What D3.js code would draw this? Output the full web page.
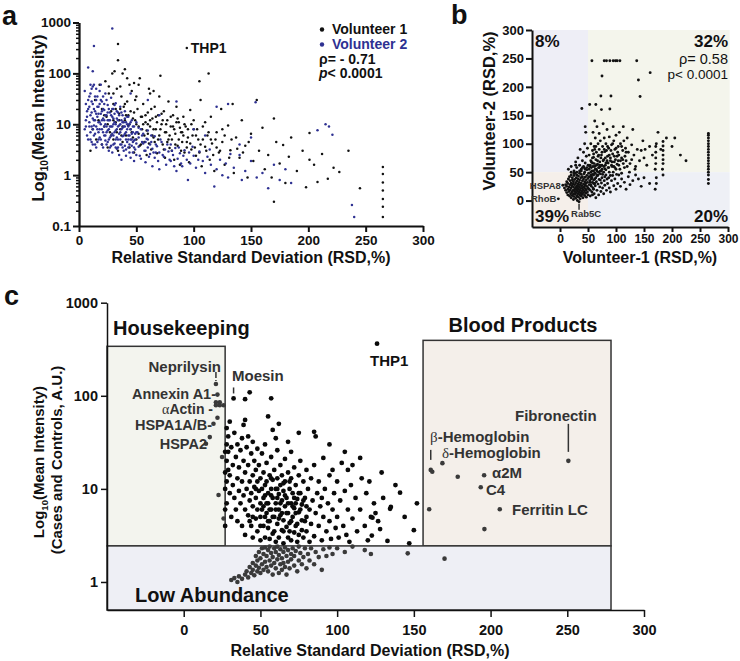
<!DOCTYPE html>
<html><head><meta charset="utf-8">
<script src="https://cdn.jsdelivr.net/npm/d3@7"></script>
<style>body{margin:0;background:#fff}svg{display:block}</style>
</head><body><svg id="chart" width="740" height="661"></svg>
<script>
// ---------------- DATA ----------------
// Panel a: [RSD %, mean intensity]
const aVol2 = [[5,8],[5,45],[6,12],[6,25],[7,6],[7,18],[8,20],[8,5],[8,130],[9,35],[9,9],[10,15],[10,7],[10,60],[11,50],[11,9],[11,4.5],[12,25],[12,4],[12,110],[12,13],[13,12],[13,60],[13,345],[13,6],[14,6.5],[14,18],[14,35],[15,30],[15,9],[15,3.5],[16,4.5],[16,14],[16,22],[17,22],[17,7],[17,11],[18,45],[18,11],[18,5.5],[19,5],[19,16],[19,30],[20,28],[20,8],[20,12],[21,3.5],[21,13],[21,20],[22,19],[22,6],[22,9],[23,40],[23,10],[23,4.8],[24,4],[24,15],[24,7],[25,24],[25,7.5],[25,12],[26,3],[26,12],[26,5],[27,17],[27,5.5],[27,9],[28,33],[28,9],[28,3.8],[29,2.8],[29,14],[29,760],[29,6.5],[30,20],[30,6],[30,10],[31,4.2],[31,11],[31,16],[32,26],[32,7.5],[32,3.5],[33,3.3],[33,13],[33,5.5],[34,17],[34,5],[34,9],[35,9.5],[35,2.5],[35,6.5],[36,22],[36,7],[36,4],[37,4],[37,12],[37,2],[38,15],[38,5.8],[38,8.5],[39,3],[39,9],[39,11],[40,18],[40,6.5],[40,3.8],[41,2.4],[41,11],[41,5],[42,4.5],[42,8],[42,14],[43,14],[43,3.5],[43,6],[44,6],[44,10],[44,2.8],[45,2.2],[45,5],[45,8],[46,12],[46,3.8],[46,6.5],[47,7],[47,2.8],[47,4.5],[48,9],[48,4.8],[48,1.9],[49,3.2],[49,6.5],[50,11],[50,2.5],[50,4.2],[51,7],[52,5.5],[52,3.6],[53,2.4],[54,8],[54,2.1],[55,4.5],[56,4.2],[56,6.5],[57,3],[58,3],[58,1.8],[59,5.2],[60,5],[60,7.5],[61,2.3],[62,2.6],[62,4],[63,6],[64,3.3],[64,1.5],[65,2.8],[66,5.8],[66,2.2],[67,4],[68,3.7],[69,1.9],[70,2.8],[70,1.3],[71,5],[72,4.5],[73,2.5],[74,2.3],[75,3.2],[76,1.6],[77,4],[78,2.9],[79,2],[80,4],[80,1.9],[81,3],[82,2.5],[83,1.5],[84,3.4],[85,1.2],[86,2.1],[87,3.5],[88,2.7],[89,1.7],[90,1.5],[91,2.4],[92,3.1],[94,2],[95,0.8],[96,2.8],[97,1.7],[99,3.6],[100,2.4],[102,1.4],[104,2],[105,2.9],[108,1.9],[110,1.1],[112,2.3],[114,3.2],[115,1.6],[118,0.6],[120,1.3],[123,2],[125,1.0],[128,1.7],[130,0.9],[132,2.6],[135,1.4],[140,2.5],[142,0.8],[145,1.2],[150,1.9],[154,27],[155,0.9],[160,1.1],[165,0.55],[170,1.6],[175,0.8],[180,1.3],[185,0.7],[208,7.6],[215,10],[218,9],[221,6.2],[238,0.26],[240,0.15],[120,22],[130,25],[85,28],[60,30],[45,40],[70,15],[100,8],[110,6],[140,4],[150,5.5],
[6,9],[7,14],[8,30],[9,11],[9,22],[10,40],[10,5],[11,17],[11,28],[12,8],[12,55],[13,20],[13,9.5],[14,4],[14,12],[15,16],[15,50],[16,8],[16,35],[17,5],[17,16],[18,25],[18,8],[19,10],[19,60],[20,4],[20,18],[21,7],[21,35],[22,12],[22,25],[23,6],[23,15],[24,9],[24,30],[25,4.5],[25,17],[26,8],[26,20],[27,12],[27,3.5],[28,15],[28,6],[29,9],[29,20],[30,4],[30,13],[31,7],[31,24],[32,10],[32,5],[33,18],[33,8],[34,12],[34,3.5],[35,15],[36,10],[36,5],[37,8],[37,17],[38,3.5],[38,11],[39,6],[40,9],[40,13],[41,7],[41,3.2],[42,10],[43,5],[43,9],[44,4],[45,11],[46,5],[47,9],[48,3.5],[49,5],[50,7],[52,8.5],[55,6],[58,4.5],[60,3.5],[63,4.5],[67,2.8]];
const aVol1 = [[10,3],[12,8],[14,30],[15,5],[17,12],[18,60],[20,4],[20,20],[22,9],[23,70],[24,14],[25,3.5],[26,40],[27,7],[28,18],[29,100],[30,5],[30,25],[31,110],[32,11],[33,50],[34,377],[34,182],[34,3],[35,16],[36,8],[37,35],[38,100],[38,4.5],[39,22],[40,12],[41,6],[42,80],[42,28],[43,9.5],[44,3.5],[45,18],[46,45],[46,7],[47,13],[48,2.8],[49,30],[50,10],[50,5],[51,20],[52,60],[53,3.8],[54,14],[55,8],[56,25],[57,4.5],[58,11],[59,2.5],[60,17],[60,6.5],[61,50],[62,40],[62,9],[63,3.2],[64,13],[65,5.5],[66,22],[67,8],[68,2.7],[69,15],[70,6],[70,35],[71,90],[72,10],[73,4],[74,18],[75,2.2],[76,7],[77,12],[78,28],[79,3.4],[80,9],[81,5],[82,15],[83,2],[84,6.5],[85,22],[86,3.8],[87,11],[88,1.6],[89,7],[90,4.5],[91,14],[92,2.8],[93,9],[94,316],[95,5.5],[96,1.8],[97,19],[98,3.2],[100,8],[100,12],[102,2.4],[104,5],[105,70],[106,30],[107,1.5],[108,9],[110,3.6],[112,6],[113,100],[114,2],[115,14],[116,4.2],[118,1.2],[120,7],[122,2.8],[124,20],[125,4.5],[127,1.6],[130,9.5],[132,3.1],[134,25],[135,1.1],[137,5.5],[140,2.2],[142,12],[145,3.8],[147,0.9],[150,6.5],[152,1.9],[155,30],[157,3],[160,8.5],[162,1.3],[165,2.5],[168,0.9],[170,13],[170,0.3],[172,4.5],[175,1.7],[178,3.9],[180,0.7],[183,2.3],[185,5.5],[190,1.2],[195,3],[198,0.58],[201,6.7],[201,2],[205,1.6],[208,0.73],[212,2.6],[217,0.85],[222,1.4],[227,1.15],[235,3],[245,0.55],[265,1.44],[265,1.05],[265,0.72],[265,0.5],[265,0.34],[265,0.24],[265,0.15],[22,15],[25,10],[28,6],[32,20],[35,12],[37,6],[40,25],[43,15],[45,8],[48,17],[50,35],[52,9],[55,14],[57,6],[60,10],[63,20],[65,8],[68,11],[72,16],[75,7],[78,5],[82,9],[86,13],[90,7],[94,4.5],[98,10],[102,6],[106,4],[110,11],[115,5],[120,3.5],[125,8],[30,40],[36,55],[44,60],[53,80],[65,45],[48,65],[26,55],[40,120],
[30,12],[33,7],[36,20],[38,9],[41,15],[44,10],[47,5.5],[49,12],[52,6.5],[54,4],[56,10],[58,15],[59,7.5],[61,4.2],[62,12],[64,6],[66,4.5],[67,14],[69,5],[71,8],[73,12],[74,3.2],[76,10],[77,4.5],[79,6],[80,14],[81,3],[83,8],[84,4],[85,11],[87,5],[88,8.5],[89,3],[91,6],[92,10],[94,3.5],[95,8],[97,4.2],[99,6],[101,3.5],[103,8],[105,2.8],[108,5],[111,3],[113,7],[117,2.5],[119,5],[123,3],[127,6],[131,2.2],[133,5],[138,3.3],[143,2.8],[148,4.5]];
const aStats = ["ρ= - 0.71", "< 0.0001"];
const aSeries = ["Volunteer 1", "Volunteer 2"];

// Panel b: [Volunteer-1 RSD, Volunteer-2 RSD]
const bPoints = [[8,22],[10,18],[10,28],[12,14],[12,25],[12,33],[14,10],[14,20],[14,30],[15,38],[16,16],[16,24],[17,8],[17,42],[18,19],[18,28],[18,35],[19,12],[20,5],[20,22],[20,31],[20,45],[21,15],[21,26],[22,9],[22,36],[22,40],[23,18],[23,29],[24,2],[24,12],[24,24],[24,33],[25,44],[25,7],[26,16],[26,20],[26,28],[26,37],[27,11],[27,48],[28,4],[28,23],[28,31],[29,14],[29,19],[29,40],[30,8],[30,26],[30,34],[30,45],[31,0],[31,17],[31,22],[32,12],[32,29],[32,38],[33,6],[33,20],[33,25],[33,43],[34,15],[34,32],[35,10],[35,24],[35,36],[35,48],[36,3],[36,18],[36,28],[37,13],[37,21],[37,40],[38,8],[38,31],[38,46],[39,16],[39,26],[40,11],[40,22],[40,35],[40,42],[41,5],[41,19],[42,14],[42,29],[42,38],[43,24],[43,47],[44,9],[44,17],[44,33],[45,21],[45,27],[45,41],[46,13],[46,30],[47,6],[47,19],[47,36],[48,25],[48,44],[49,15],[49,32],[50,10],[50,22],[50,39],[5,27],[-3,3],[34,-2],
[15,55],[20,60],[25,52],[28,68],[30,58],[32,75],[35,62],[36,90],[38,55],[39,162],[40,70],[42,85],[43,58],[44,100],[45,66],[46,120],[47,78],[48,54],[49,92],[45,130],
[52,55],[52,80],[53,169],[54,62],[55,100],[55,70],[56,58],[57,246],[58,88],[58,66],[59,120],[60,52],[60,76],[61,95],[62,60],[62,140],[63,110],[64,169],[64,72],[65,55],[65,85],[66,130],[67,64],[68,100],[68,78],[69,58],[70,90],[70,118],[71,68],[72,52],[72,105],[73,184],[74,160],[74,80],[75,219],[75,62],[76,95],[77,135],[78,72],[79,246],[79,110],[80,56],[80,86],[82,100],[82,66],[83,246],[84,125],[85,78],[86,58],[87,92],[88,112],[89,161],[89,246],[90,70],[91,184],[92,98],[93,60],[94,82],[95,246],[95,130],[96,105],[97,68],[98,90],[99,246],[100,55],[100,115],[102,246],[102,78],[104,95],[105,62],[107,246],[108,100],[110,75],[112,88],[113,130],[115,58],[117,92],[118,70],[120,110],[122,85],[125,65],[128,98],[130,125],[132,80],[135,60],[137,246],[138,90],[140,212],[142,70],[143,183],[145,88],[148,105],[150,75],[152,90],[155,62],[160,95],[161,225],[165,80],[170,55],[171,65],[171,75],[171,85],[171,95],[172,100],[175,120],[180,90],[183,55],[184,65],[184,72],[184,80],[184,88],[184,96],[184,104],[190,110],[200,95],[205,110],[215,80],[225,70],
[265,55],[265,60],[265,65],[265,70],[265,75],[265,80],[265,85],[265,90],[265,95],[265,100],[265,105],[265,110],[265,115],[265,118],
[52,20],[53,35],[54,8],[55,28],[56,42],[57,15],[58,32],[59,22],[60,45],[61,12],[62,38],[63,26],[64,5],[65,33],[66,18],[67,44],[68,29],[69,10],[70,37],[71,24],[72,47],[73,16],[74,31],[75,40],[76,22],[78,12],[79,35],[80,27],[82,45],[83,18],[85,30],[87,40],[88,22],[90,15],[92,35],[94,44],[96,26],[98,38],[100,20],[103,30],[105,45],[108,25],[110,38],[115,32],[118,20],[122,42],[125,28],[130,35],[135,45],[140,38],[145,25],[150,40],[160,30],[170,20],[172,30],[172,40],[184,45],[265,30],[265,37],[265,45],[265,50],
[52,28],[55,50],[56,38],[58,46],[60,30],[62,48],[64,40],[66,52],[68,45],[70,58],[72,36],[74,52],[76,46],[78,60],[80,42],[82,54],[84,38],[86,66],[88,50],[90,44],[92,62],[95,50],[98,58],[101,46],[104,70],[107,55],[110,48],[113,65],[116,78],[120,60],[124,50],[128,72],[134,55],[45,55],[40,58],[35,52],[30,50],[25,48],[52,42],[54,18],[56,25],[58,10],[60,20],[62,30],[38,52],[42,60],[28,62],[20,50],[55,45],[57,52],[59,60],[61,65],[63,48],[65,62],[67,70],[69,80],[71,62],[73,75],[75,85],[77,70],[79,90],[81,75],[83,88],[85,95],[88,80],[91,88],[94,100],[97,78],[100,92],[103,85],[106,120],[110,95],[114,105],[118,85],
[54,32],[57,40],[60,36],[63,55],[66,44],[69,50],[72,60],[75,55],[78,50],[81,62],[84,70],[87,58],[90,75],[93,68],[96,60],[99,72],[102,64],[105,80],[108,70],[112,72],[44,50],[48,58],[50,62],[51,48],[53,60],[56,68],[58,75],[60,82],[62,90],[64,95]];
const bThreshold = 50;
const bQuadPct = ["8%", "32%", "39%", "20%"]; // TL, TR, BL, BR
const bStats = ["ρ= 0.58", "p< 0.0001"];

// Panel c: [RSD %, mean intensity (cases and controls)]
const cMain = [[27,25],[27,15],[27,10],[27,6],[27,4],[28,45],[28,30],[28,20],[28,12],[28,7],[29,36.6],[29,25],[29,16],[30,52.7],[30,9],[30,14],[31,5],[31,28],[32,18],[32,11],[33,40],[33,8],[34,22],[34,6],[35,13],[35,30],[35,4.5],[36,17],[36,9.5],[37,26],[37,7],[38,35],[38,12],[38,4],[39,48.6],[39,20],[39,8.5],[40,15],[40,6],[40,3.2],[41,28],[41,10],[42,36.6],[42,18],[42,5.2],[43,12],[43,7.5],[44,24],[44,4],[44,9],[45,32],[45,14],[45,6.5],[45,3],[46,20],[46,10.5],[47,8],[47,4.8],[47,16],[48,27],[48,12],[48,6],[48,3.5],[49,9.5],[49,18],[50,13],[50,5],[50,7],[50,2.8],[51,24],[51,10],[52,15],[52,6.5],[52,4],[53,8.5],[53,30],[53,3],[54,12],[54,5.5],[54,19],[55,9],[55,3.8],[55,7],[56,14],[56,4.5],[56,2.9],[57,22],[57,6],[57,10],[58,43],[58,8],[58,3.3],[58,12.5],[59,5],[59,16],[60,35],[60,7],[60,2.7],[60,10],[61,4.2],[61,13],[61,26],[62,6],[62,8.8],[62,3],[63,11],[63,5.2],[63,18],[64,7.5],[64,3.6],[64,14],[65,4.6],[65,9.5],[65,2.6],[66,6.5],[66,12],[66,21],[67,3.9],[67,8],[68,5.5],[68,15],[68,3],[69,10],[69,4.3],[70,7],[70,2.8],[70,13],[70,25],[71,5],[71,9],[72,3.4],[72,6.2],[72,17],[73,11],[73,4],[74,7.8],[74,2.7],[75,5.6],[75,14],[75,3.2],[76,9],[76,20],[77,4.6],[77,6.8],[78,3],[78,12],[79,8],[80,5],[80,16],[80,3.5],[81,10],[82,6],[82,2.7],[83,13],[83,4.2],[84,7.5],[85,3.1],[85,41],[85,18],[86,5.5],[86,36.6],[87,9],[88,4],[88,12],[89,6.5],[90,2.8],[90,8],[91,21.5],[91,5],[92,10],[93,3.5],[94,7],[95,14],[95,4.5],[96,2.9],[97,16],[97,6],[98,9],[99,3.8],[100,12],[100,5],[101,3],[102,7.5],[103,19],[104,4],[105,9.5],[106,3.2],[107,16],[107,6],[108,2.7],[109,11],[110,4.8],[112,8],[113,3.5],[115,21.5],[115,6],[116,13],[118,4],[119,9],[120,2.8],[121,12],[122,5],[122.6,3.15],[123,4.9],[124,7],[125,5.5],[126.7,4.5],[128,3.7],[129,15],[130,8],[132.8,2.76],[134.5,6.1],[135,6.4],[138,11],[141,9.1],[144,5],[150,3.6],[152,7],[147,2.6],[55,60],[40,55],[62,50],[75,40],[95,30],[105,25],[110,18],[68,32],[32.5,93.6],[40,92],[43,109],[57,94],[126,363],
[50,4],[51,6],[52,8],[53,5],[54,7],[55,4.5],[56,6],[57,8.5],[58,5],[59,3.5],[60,6],[61,8],[62,4.8],[63,7],[64,5.5],[65,3.5],[66,8.5],[67,5.5],[68,7],[69,3.5],[70,4.5],[71,6.5],[72,8],[73,5.5],[74,4.2],[75,9],[76,6],[77,3.6],[78,7.5],[79,4.5],[80,6.5],[53,11],[57,13],[61,10],[65,11.5],[69,12],[73,7],[45,5],[47,10],[43,4.5]];
const cLow = [[31,1.05],[33,1.1],[35,1.0],[36,1.15],[38,1.08],[40,1.2],[41,1.3],[42,1.12],[43,1.45],[44,1.25],[45,1.6],[45,1.35],[46,1.18],[47,1.5],[47,1.9],[48,1.3],[48,1.7],[49,2.1],[49,1.42],[50,1.25],[50,1.8],[51,2.3],[51,1.55],[52,1.35],[52,2.0],[53,1.65],[53,2.35],[54,1.45],[54,1.9],[55,2.2],[55,1.3],[56,1.7],[56,2.4],[57,1.5],[57,2.05],[58,1.2],[58,1.85],[59,2.3],[59,1.6],[60,1.4],[60,2.1],[61,1.75],[61,2.4],[62,1.25],[62,1.95],[63,1.55],[63,2.25],[64,1.8],[64,1.35],[65,2.1],[65,1.6],[66,2.35],[66,1.45],[67,1.9],[67,1.2],[68,2.2],[68,1.65],[69,1.4],[70,2.0],[70,1.75],[71,2.3],[72,1.5],[72,1.9],[73,2.15],[74,1.3],[75,1.7],[75,2.4],[76,2.05],[77,1.55],[78,1.85],[79,2.3],[80,1.4],[81,2.0],[82,1.7],[83,2.3],[85,1.55],[86,2.1],[88,1.85],[90,1.35],[91,2.25],[93,1.9],[95,2.35],[97,2.0],[100,2.3],[105,2.1],[110,2.4],[118,2.2],[122,2.0],[146,2.03],[170,1.78]];
const cHousekeeping = [[21,134],[22,103],[21,85],[23.5,85],[21,79],[23.5,79],[26,79],[19.4,50],[22,58],[17,36],[14.5,30.5],[22.7,8.6],[25,22],[26,4.8]];
const cBlood = [[161,16],[162,15.3],[168.6,18.9],[178.6,13.5],[195.8,14],[193.6,10.4],[206,6.05],[196,3.7],[160,6.05],[250.7,20]];
const cRegions = [
  {name:"Housekeeping", x0:-50, x1:27, y0:2.44, y1:340, fill:"#f3f4ee"},
  {name:"Blood Products", x0:156, x1:278.5, y0:2.44, y1:394, fill:"#f4efea"},
  {name:"Low Abundance", x0:-50, x1:278.5, y0:0.5, y1:2.44, fill:"#eeeff5"}
];
const xTicks = [0,50,100,150,200,250,300];

// ---------------- DRAW ----------------
const FONT = "Arial, 'Liberation Sans', Helvetica, sans-serif";
const svg = d3.select("#chart").attr("font-family", FONT);
const BLUE = "#2e3192";

function styleAxis(g, sw, fs) {
  g.attr("font-family", FONT).attr("font-size", fs).attr("font-weight", "bold");
  g.selectAll("path,line").attr("stroke", "#111").attr("stroke-width", sw);
  g.selectAll("text").attr("fill", "#111");
}
function txt(x, y, s, o = {}) {
  const t = svg.append("text").attr("x", x).attr("y", y).text(s)
    .attr("font-size", o.fs || 14).attr("font-weight", o.fw || "bold")
    .attr("fill", o.fill || "#111").attr("text-anchor", o.anchor || "start");
  if (o.rot) t.attr("transform", `rotate(${o.rot},${x},${y})`);
  return t;
}

// ===== Panel a =====
const xa = d3.scaleLinear().domain([0, 300]).range([79, 423]);
const ya = d3.scaleLog().domain([0.1, 1000]).range([226, 22.5]);
const ga = svg.append("g");
ga.append("g").selectAll("circle").data(aVol1).join("circle")
  .attr("cx", d => xa(d[0])).attr("cy", d => ya(d[1])).attr("r", 1.25).attr("fill", "#111");
ga.append("g").selectAll("circle").data(aVol2).join("circle")
  .attr("cx", d => xa(d[0])).attr("cy", d => ya(d[1])).attr("r", 1.25).attr("fill", BLUE);
const minorA = [];
[0.1, 1, 10, 100].forEach(b => { for (let k = 2; k <= 9; k++) minorA.push(b * k); });
const ayMinor = ga.append("g").attr("transform", "translate(79,0)")
  .call(d3.axisLeft(ya).tickValues(minorA).tickSize(3).tickSizeOuter(0).tickFormat(""));
styleAxis(ayMinor, 1.5, 13);
const ayMajor = ga.append("g").attr("transform", "translate(79,0)")
  .call(d3.axisLeft(ya).tickValues([0.1, 1, 10, 100, 1000]).tickSize(6).tickSizeOuter(0).tickPadding(2).tickFormat(d => String(d)));
styleAxis(ayMajor, 2, 13.5);
const axA = ga.append("g").attr("transform", "translate(0,226)")
  .call(d3.axisBottom(xa).tickValues(xTicks).tickSize(6).tickSizeOuter(0).tickPadding(3));
styleAxis(axA, 2, 13.5);
txt(2, 25, "a", {fs: 27});
txt(251, 263, "Relative Standard Deviation (RSD,%)", {fs: 16, anchor: "middle"});
const yla = txt(44, 118, "", {fs: 16.5, anchor: "middle", rot: -90});
yla.append("tspan").text("Log");
yla.append("tspan").text("10").attr("font-size", 10).attr("dy", 4);
yla.append("tspan").text("(Mean Intensity)").attr("dy", -4);
txt(xa(94) + 4, ya(316) + 5, "THP1", {fs: 14});
svg.append("circle").attr("cx", 322).attr("cy", 29.5).attr("r", 2.2).attr("fill", "#111");
txt(332, 34, aSeries[0], {fs: 14});
svg.append("circle").attr("cx", 322).attr("cy", 44.5).attr("r", 2.2).attr("fill", BLUE);
txt(332, 49, aSeries[1], {fs: 14, fill: BLUE});
txt(319, 63.5, aStats[0], {fs: 14});
const pa = txt(319, 78, "", {fs: 14});
pa.append("tspan").text("p").attr("font-style", "italic");
pa.append("tspan").text(aStats[1]);

// ===== Panel b =====
const xb = d3.scaleLinear().domain([-50, 300]).range([532, 728]);
const yb = d3.scaleLinear().domain([-46.5, 300]).range([227, 30]);
const gb = svg.append("g");
const quads = [
  {x0:-50, x1:bThreshold, y0:bThreshold, y1:300, fill:"#eeeef6"},
  {x0:bThreshold, x1:303, y0:bThreshold, y1:300, fill:"#f4f5ec"},
  {x0:-50, x1:bThreshold, y0:-46.5, y1:bThreshold, fill:"#f5efea"},
  {x0:bThreshold, x1:303, y0:-46.5, y1:bThreshold, fill:"#eef0f6"}
];
gb.selectAll("rect").data(quads).join("rect")
  .attr("x", d => xb(d.x0)).attr("width", d => xb(d.x1) - xb(d.x0))
  .attr("y", d => yb(d.y1)).attr("height", d => yb(d.y0) - yb(d.y1)).attr("fill", d => d.fill);
gb.append("g").selectAll("circle").data(bPoints).join("circle")
  .attr("cx", d => xb(d[0])).attr("cy", d => yb(d[1])).attr("r", 1.45).attr("fill", "#111");
const byAx = gb.append("g").attr("transform", "translate(532,0)")
  .call(d3.axisLeft(yb).tickValues([0, 50, 100, 150, 200, 250, 300]).tickSize(6).tickSizeOuter(0).tickPadding(2));
styleAxis(byAx, 2, 13);
const bxAx = gb.append("g").attr("transform", "translate(0,227)")
  .call(d3.axisBottom(xb).tickValues(xTicks).tickSize(5).tickSizeOuter(0).tickPadding(2));
styleAxis(bxAx, 2, 12);
txt(451, 24, "b", {fs: 27});
txt(640, 263, "Volunteer-1 (RSD,%)", {fs: 16, anchor: "middle"});
txt(495, 111, "Volunteer-2 (RSD,%)", {fs: 16.5, anchor: "middle", rot: -90});
txt(535, 47, bQuadPct[0], {fs: 17});
txt(728, 47, bQuadPct[1], {fs: 17, anchor: "end"});
txt(535, 222, bQuadPct[2], {fs: 17});
txt(728, 222, bQuadPct[3], {fs: 17, anchor: "end"});
txt(728, 64, bStats[0], {fs: 14.5, fw: "normal", anchor: "end"});
txt(728, 79, bStats[1], {fs: 13.5, fw: "normal", anchor: "end"});
txt(xb(5) - 2, yb(27) + 4, "HSPA8", {fs: 9.5, anchor: "end", fill: "#333"});
txt(xb(-3) - 2, yb(3) + 3, "RhoB", {fs: 9.5, anchor: "end", fill: "#333"});
svg.append("line").attr("x1", xb(34)).attr("x2", xb(34)).attr("y1", yb(-2) + 2).attr("y2", yb(-2) + 8)
  .attr("stroke", "#333").attr("stroke-width", 1.5);
txt(xb(34) - 8, yb(-2) + 15, "Rab5C", {fs: 9.5, fill: "#333"});

// ===== Panel c =====
const xc = d3.scaleLinear().domain([-50, 300]).range([107, 644]);
const yc = d3.scaleLog().domain([0.5, 1000]).range([610, 302.7]);
const gc = svg.append("g");
gc.selectAll("rect").data(cRegions).join("rect")
  .attr("x", d => xc(d.x0)).attr("width", d => xc(d.x1) - xc(d.x0))
  .attr("y", d => yc(d.y1)).attr("height", d => yc(d.y0) - yc(d.y1))
  .attr("fill", d => d.fill).attr("stroke", "#333").attr("stroke-width", 1.5);
gc.append("g").selectAll("circle").data(cMain).join("circle")
  .attr("cx", d => xc(d[0])).attr("cy", d => yc(d[1])).attr("r", 2.4).attr("fill", "#0a0a0a");
gc.append("g").selectAll("circle").data(cLow.concat(cHousekeeping, cBlood)).join("circle")
  .attr("cx", d => xc(d[0])).attr("cy", d => yc(d[1])).attr("r", 2.3).attr("fill", "#3a3a3a");
const cyAx = gc.append("g").attr("transform", "translate(107,0)")
  .call(d3.axisLeft(yc).tickValues([1, 10, 100, 1000]).tickSize(6).tickSizeOuter(0).tickPadding(3).tickFormat(d => String(d)));
styleAxis(cyAx, 1.5, 14.5);
const cxAx = gc.append("g").attr("transform", "translate(0,610)")
  .call(d3.axisBottom(xc).tickValues(xTicks).tickSize(7).tickSizeOuter(0).tickPadding(8));
styleAxis(cxAx, 1.5, 14.5);
txt(4, 305, "c", {fs: 27});
txt(370, 656, "Relative Standard Deviation (RSD,%)", {fs: 16, anchor: "middle"});
const ylc = txt(44, 462, "", {fs: 15, anchor: "middle", rot: -90});
ylc.append("tspan").text("Log");
ylc.append("tspan").text("10").attr("font-size", 9.5).attr("dy", 4);
ylc.append("tspan").text("(Mean Intensity)").attr("dy", -4);
txt(62, 460, "(Cases and Controls, A.U.)", {fs: 15, anchor: "middle", rot: -90});
txt(113, 335, "Housekeeping", {fs: 20});
txt(523, 332, "Blood Products", {fs: 20, anchor: "middle"});
txt(135, 602, "Low Abundance", {fs: 20});
const G = "#333";
const SERIF = "'Liberation Serif', 'DejaVu Serif', serif";
txt(221, 372, "Neprilysin", {fs: 15, anchor: "end", fill: G});
txt(232, 381, "Moesin", {fs: 15, fill: G});
txt(216, 399, "Annexin A1-", {fs: 14.5, anchor: "end", fill: G});
const aa = txt(213, 414, "", {fs: 14, anchor: "end", fill: G});
aa.append("tspan").text("α").attr("font-family", SERIF).attr("font-weight", "normal");
aa.append("tspan").text("Actin -");
txt(212, 430, "HSPA1A/B-", {fs: 14.5, anchor: "end", fill: G});
txt(207, 449, "HSPA2", {fs: 14.5, anchor: "end", fill: G});
txt(370, 366, "THP1", {fs: 15});
txt(515, 421, "Fibronectin", {fs: 15, fill: G});
const bh = txt(430, 442, "", {fs: 15, fill: G});
bh.append("tspan").text("β").attr("font-family", SERIF).attr("font-weight", "normal");
bh.append("tspan").text("-Hemoglobin");
const dh = txt(442, 457.5, "", {fs: 15, fill: G});
dh.append("tspan").text("δ").attr("font-family", SERIF).attr("font-weight", "normal");
dh.append("tspan").text("-Hemoglobin");
txt(492, 478, "α2M", {fs: 15, fill: G});
txt(486, 495, "C4", {fs: 15, fill: G});
txt(512, 515, "Ferritin LC", {fs: 15, fill: G});
const lead = (x, y1, y2, dash) => svg.append("line").attr("x1", x).attr("x2", x).attr("y1", y1).attr("y2", y2)
  .attr("stroke", G).attr("stroke-width", 1.5).attr("stroke-dasharray", dash || null);
lead(xc(21), yc(134) - 12, yc(134) - 3, "6,2");
lead(xc(32.5), yc(93.6) - 11, yc(93.6) - 5);
lead(xc(161), yc(16) - 20, yc(16) - 10);
lead(xc(250.7), yc(20) - 37, yc(20) - 9);
</script></body></html>
